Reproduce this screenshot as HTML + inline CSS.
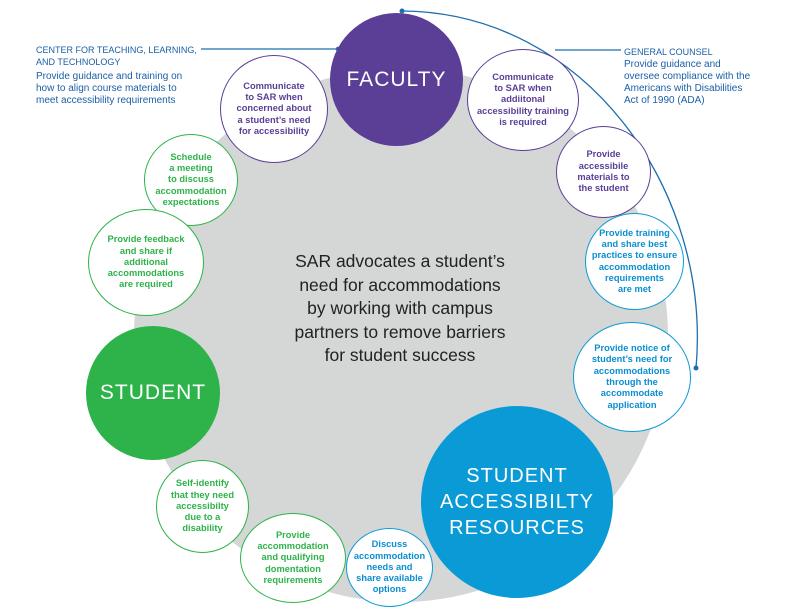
<!DOCTYPE html>
<html><head><meta charset="utf-8"><style>
body{margin:0;width:792px;height:612px;background:#fff;overflow:hidden;position:relative;font-family:"Liberation Sans",sans-serif}
.c{position:absolute;border-radius:50%;box-sizing:border-box;display:flex;align-items:center;justify-content:center;text-align:center;font-weight:bold;font-size:9.3px;line-height:11.3px}
.p{border:1.5px solid #5b3e96;color:#5b3e96;background:#fff}
.g{border:1.5px solid #2db34a;color:#2db34a;background:#fff}
.b{border:1.5px solid #0a9bd7;color:#0a8fd0;background:#fff}
.t{position:absolute;color:#1a5fa8;font-size:10px;line-height:12px}
.big{letter-spacing:1px}
</style></head><body>
<div class="c" style="left:134px;top:68px;width:534px;height:534px;background:#d5d6d6"></div>
<svg style="position:absolute;left:0;top:0" width="792" height="612">
<path d="M402,11 C585,12 712,190 696,368" fill="none" stroke="#1a6fb0" stroke-width="1.3"/>
<circle cx="402" cy="11" r="2.5" fill="#1a6fb0"/><circle cx="696" cy="368" r="2.5" fill="#1a6fb0"/>
<line x1="201" y1="49" x2="338" y2="49" stroke="#1a6fb0" stroke-width="1.2"/>
<circle cx="338" cy="49" r="2.3" fill="#1a6fb0"/>
<line x1="555" y1="50" x2="621" y2="50" stroke="#1a6fb0" stroke-width="1.2"/>
</svg>
<div class="t" style="left:36px;top:44px;font-size:9px">CENTER FOR TEACHING, LEARNING,<br>AND TECHNOLOGY</div>
<div class="t" style="left:36px;top:71px">Provide guidance and training on<br>how to align course materials to<br>meet accessibility requirements</div>
<div class="t" style="left:624px;top:46px;font-size:9px">GENERAL COUNSEL</div>
<div class="t" style="left:624px;top:59px">Provide guidance and<br>oversee compliance with the<br>Americans with Disabilities<br>Act of 1990 (ADA)</div>
<div class="c big" style="left:330px;top:13px;width:133px;height:133px;background:#5b3e96;color:#fff;font-weight:normal;font-size:21px">FACULTY</div>
<div class="c p" style="left:220px;top:55px;width:108px;height:108px">Communicate<br>to SAR when<br>concerned about<br>a student’s need<br>for accessibility</div>
<div class="c p" style="left:467px;top:49px;width:112px;height:102px">Communicate<br>to SAR when<br>addiitonal<br>accessibility training<br>is required</div>
<div class="c p" style="left:556px;top:126px;width:95px;height:92px">Provide<br>accessibile<br>materials to<br>the student</div>
<div class="c g" style="left:144px;top:134px;width:94px;height:92px">Schedule<br>a meeting<br>to discuss<br>accommodation<br>expectations</div>
<div class="c g" style="left:88px;top:209px;width:116px;height:107px">Provide feedback<br>and share if<br>additional<br>accommodations<br>are required</div>
<div class="c b" style="left:585px;top:213px;width:99px;height:97px">Provide training<br>and share best<br>practices to ensure<br>accommodation<br>requirements<br>are met</div>
<div class="c b" style="left:573px;top:322px;width:118px;height:110px">Provide notice of<br>student’s need for<br>accommodations<br>through the<br>accommodate<br>application</div>
<div class="c big" style="left:86px;top:326px;width:134px;height:134px;background:#2db34a;color:#fff;font-weight:normal;font-size:21px">STUDENT</div>
<div class="c big" style="left:421px;top:406px;width:192px;height:192px;background:#0a9bd7;color:#fff;font-weight:normal;font-size:20px;line-height:26px">STUDENT<br>ACCESSIBILTY<br>RESOURCES</div>
<div class="c g" style="left:156px;top:460px;width:93px;height:93px">Self-identify<br>that they need<br>accessibilty<br>due to a<br>disability</div>
<div class="c g" style="left:240px;top:513px;width:106px;height:90px">Provide<br>accommodation<br>and qualifying<br>domentation<br>requirements</div>
<div class="c b" style="left:346px;top:528px;width:87px;height:79px">Discuss<br>accommodation<br>needs and<br>share available<br>options</div>
<div style="position:absolute;left:240px;top:250px;width:320px;text-align:center;font-size:17.5px;line-height:23.5px;color:#222">SAR advocates a student’s<br>need for accommodations<br>by working with campus<br>partners to remove barriers<br>for student success</div>
</body></html>
